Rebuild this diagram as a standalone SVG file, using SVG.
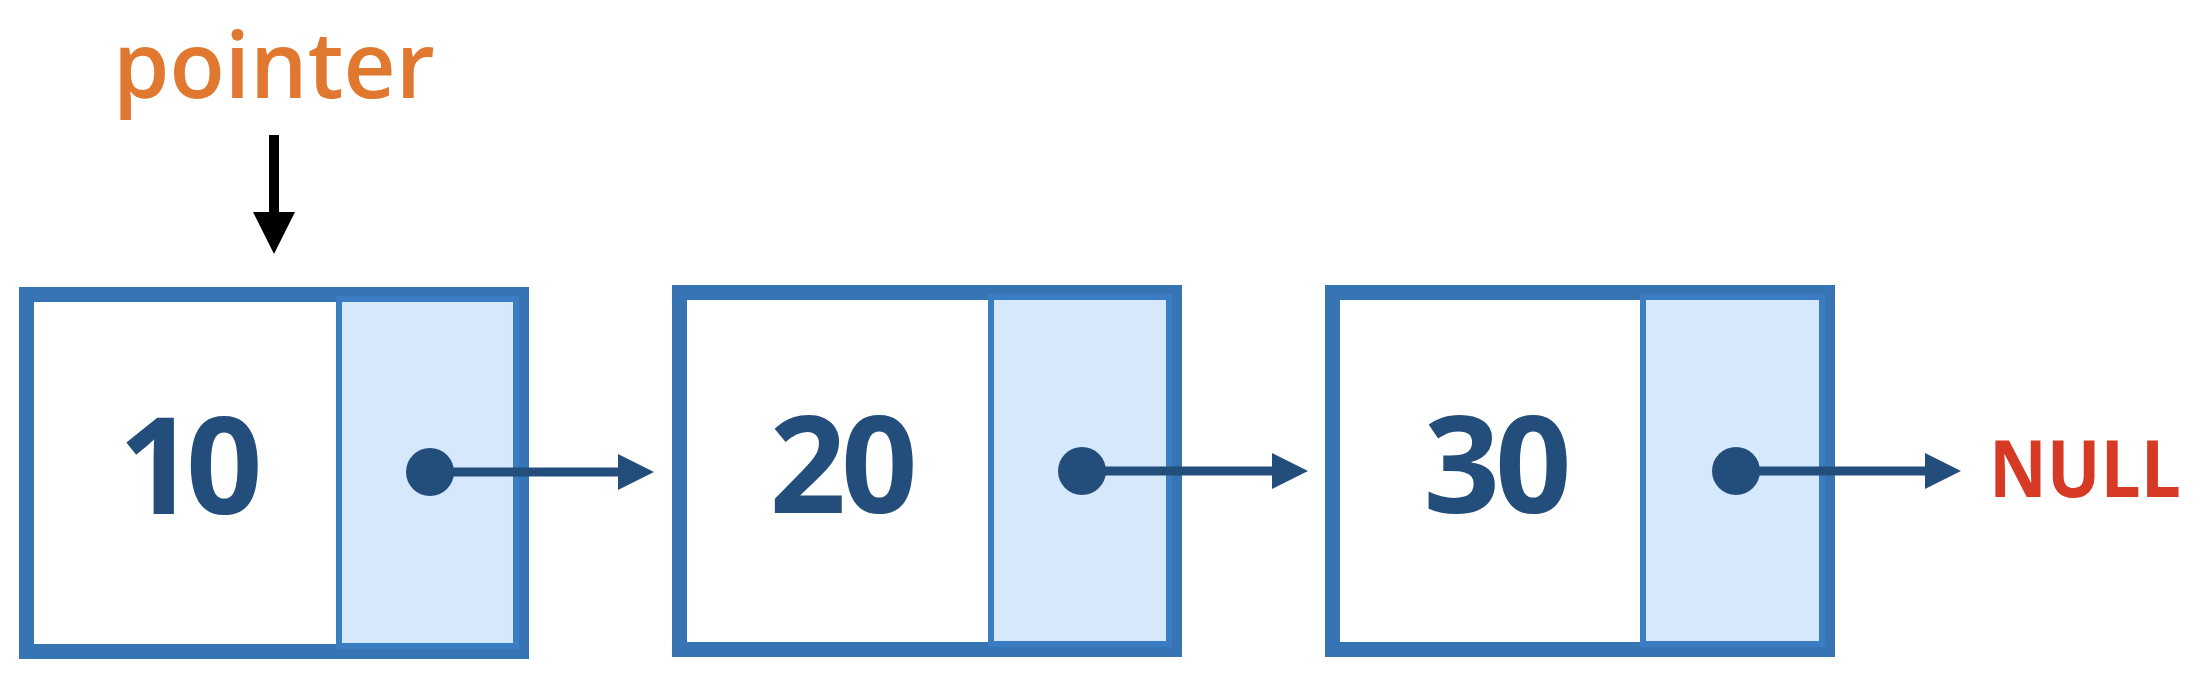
<svg xmlns="http://www.w3.org/2000/svg" width="2212" height="700" viewBox="0 0 2212 700">
  <defs>
    <style>
      .outer { fill: #ffffff; stroke: #3674b4; stroke-width: 15; }
      .panel { fill: #d6e8fb; stroke: #3b7dc3; stroke-width: 6; }
      .val { font-family: "Open Sans", "Liberation Sans", sans-serif; font-weight: 700; font-size: 134px; fill: #234e7c; text-anchor: middle; }
      .link { stroke: #234e7c; stroke-width: 9; fill: none; }
      .dot { fill: #234e7c; }
      .head { fill: #234e7c; }
    </style>
  </defs>
  <rect width="2212" height="700" fill="#ffffff"/>

  <g id="pointer-label">
    <text x="113" y="98" textLength="322" lengthAdjust="spacingAndGlyphs" font-family="'Open Sans', 'Liberation Sans', sans-serif" font-weight="600" font-size="92" fill="#e07830">pointer</text>
  </g>

  <g id="node1">
    <rect class="outer" x="26.5" y="294.5" width="495" height="357"/>
    <rect class="panel" x="339" y="299" width="177" height="347"/>
    <text class="val" x="186" y="514" letter-spacing="-9">10</text>
  </g>

  <g id="node2">
    <rect class="outer" x="679.5" y="292.5" width="495" height="357"/>
    <rect class="panel" x="991" y="297" width="178" height="347"/>
    <text class="val" x="841" y="513" letter-spacing="-5">20</text>
  </g>

  <g id="node3">
    <rect class="outer" x="1332.5" y="292.5" width="495" height="357"/>
    <rect class="panel" x="1643" y="297" width="179" height="347"/>
    <text class="val" x="1495" y="513" letter-spacing="-5">30</text>
  </g>

  <g id="null-label">
    <text x="1989" y="497" textLength="192" lengthAdjust="spacingAndGlyphs" font-family="'Open Sans', 'Liberation Sans', sans-serif" font-weight="700" font-size="78" fill="#d63a25">NULL</text>
  </g>

  <g id="connectors">
    <rect x="269" y="135" width="10" height="78" fill="#000000"/>
    <polygon points="253,212 295,212 274,254" fill="#000000"/>

    <line class="link" x1="430" y1="472" x2="620" y2="472"/>
    <polygon class="head" points="618,454 654,472 618,490"/>
    <circle class="dot" cx="430" cy="472" r="24"/>

    <line class="link" x1="1082" y1="471" x2="1274" y2="471"/>
    <polygon class="head" points="1272,453 1308,471 1272,489"/>
    <circle class="dot" cx="1082" cy="471" r="24"/>

    <line class="link" x1="1736" y1="471" x2="1927" y2="471"/>
    <polygon class="head" points="1925,453 1961,471 1925,489"/>
    <circle class="dot" cx="1736" cy="471" r="24"/>
  </g>
</svg>
